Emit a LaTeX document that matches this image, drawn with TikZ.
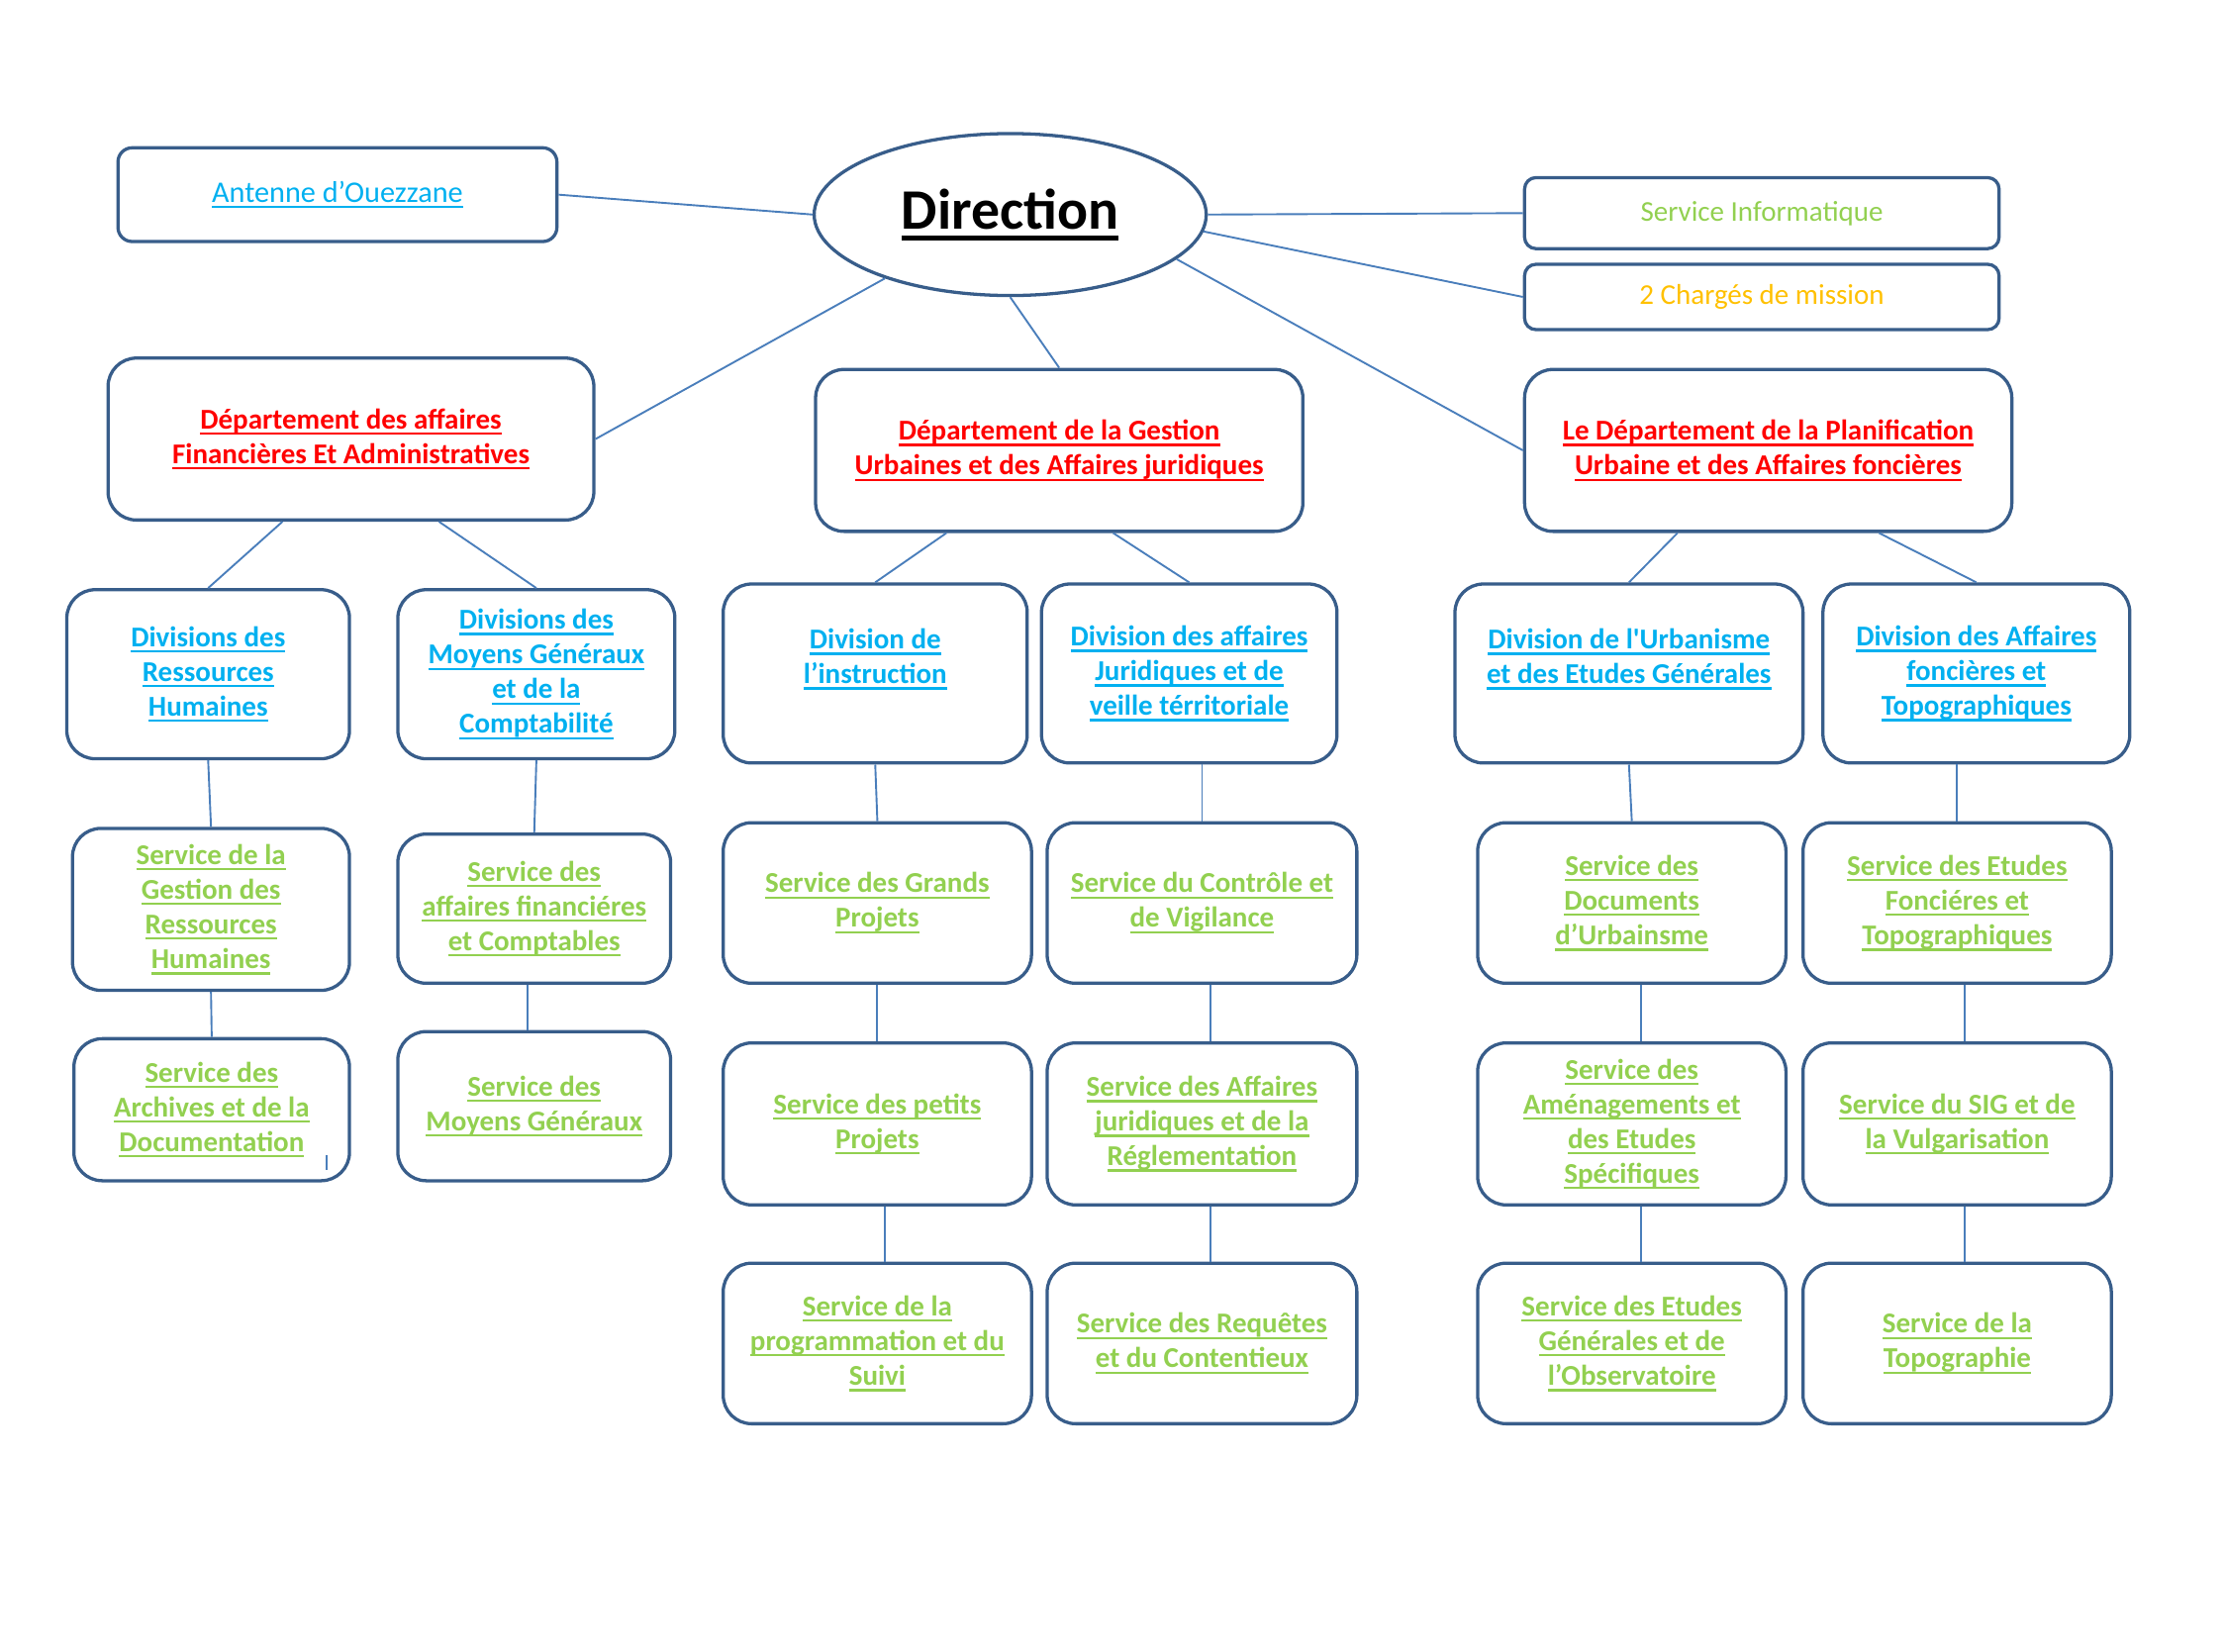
\documentclass[tikz,border=0pt]{standalone}
\usepackage{fontspec}
\setmainfont{Carlito}[Ligatures=TeXOff]
\usetikzlibrary{calc, shapes.geometric}
\definecolor{boxblue}{HTML}{385D8A}
\definecolor{linecol}{HTML}{4A7EBB}
\definecolor{linkblue}{HTML}{00B0F0}
\definecolor{srvgreen}{HTML}{92D050}
\definecolor{deptred}{HTML}{FF0000}
\definecolor{chgorange}{HTML}{FFC000}
\newcommand{\ulin}[1]{\setbox0=\hbox{#1}\rlap{\rule[-2.4pt]{\wd0}{0.9pt}}\box0}
\newcommand{\ulbig}[1]{\setbox0=\hbox{#1}\rlap{\rule[-4.6pt]{\wd0}{1.9pt}}\box0}
\tikzset{ % chart styles
  orgbox/.style={draw=boxblue, line width=1.3pt, rounded corners=0.4cm, align=center,
    inner sep=0pt, font=\fontsize{11.5}{13.9}\selectfont\bfseries},
  dept/.style={orgbox, text=deptred, minimum height=2.28cm},
  divi/.style={orgbox, text=linkblue},
  serv/.style={orgbox, text=srvgreen},
  topbox/.style={orgbox, font=\fontsize{11.5}{14}\selectfont},
  link/.style={draw=linecol, line width=0.75pt}
}

\begin{document}
\begin{tikzpicture}[x=0.02cm, y=-0.02cm]
  \useasboundingbox (0,0) rectangle (1566,1162);
  % top level
  \node[ellipse, draw=boxblue, line width=1.3pt, minimum width=5.52cm, minimum height=2.28cm,
    inner sep=0pt, font=\fontsize{22.9}{27}\selectfont\bfseries] (dir) at (711,151) {\ulbig{Direction}};
  \node[topbox, text=linkblue, rounded corners=0.2cm, minimum width=6.18cm, minimum height=1.32cm,
    font=\fontsize{12}{14}\selectfont] (ant) at (237.5,137) {\ulin{Antenne d’Ouezzane}};
  \node[topbox, text=srvgreen, rounded corners=0.16cm, minimum width=6.68cm, minimum height=1.0cm] (inf) at (1240,150) {Service Informatique};
  \node[topbox, text=chgorange, rounded corners=0.16cm, minimum width=6.68cm, minimum height=0.92cm] (chg) at (1240,209) {2 Chargés de mission};
  \node[dept, minimum width=6.84cm] (dfin) at (247,309) {\ulin{Département des affaires}\\\ulin{Financières Et Administratives}};
  \node[dept, minimum width=6.86cm] (dges) at (745.5,317) {\ulin{Département de la Gestion}\\\ulin{Urbaines et des Affaires juridiques}};
  \node[dept, minimum width=6.86cm] (dpl) at (1244.5,317) {\ulin{Le Département de la Planification}\\\ulin{Urbaine et des Affaires foncières}};
  % divisions
  \node[divi, minimum width=3.98cm, minimum height=2.38cm] (drh) at (146.5,474.5) {\ulin{Divisions des}\\\ulin{Ressources}\\\ulin{Humaines}};
  \node[divi, minimum width=3.9cm, minimum height=2.38cm] (dmg) at (377.5,474.5) {\ulin{Divisions des}\\\ulin{Moyens Généraux}\\\ulin{et de la}\\\ulin{Comptabilité}};
  \node[divi, minimum width=4.28cm, minimum height=2.52cm] (di) at (616,474) {\ulin{Division de}\\\ulin{l’instruction}\\\mbox{}};
  \node[divi, minimum width=4.16cm, minimum height=2.52cm] (daj) at (837,474) {\ulin{Division des affaires}\\\ulin{Juridiques et de}\\\ulin{veille térritoriale}};
  \node[divi, minimum width=4.9cm, minimum height=2.52cm] (du) at (1146.5,474) {\ulin{Division de l'Urbanisme}\\\ulin{et des Etudes Générales}\\\mbox{}};
  \node[divi, minimum width=4.32cm, minimum height=2.52cm] (daf) at (1391,474) {\ulin{Division des Affaires}\\\ulin{foncières et}\\\ulin{Topographiques}};
  % services
  \node[serv, minimum width=3.9cm, minimum height=2.28cm] (sgrh) at (148.5,640) {\ulin{Service de la}\\\ulin{Gestion des}\\\ulin{Ressources}\\\ulin{Humaines}};
  \node[serv, minimum width=3.88cm, minimum height=2.0cm] (sad) at (149,781) {\ulin{Service des}\\\ulin{Archives et de la}\\\ulin{Documentation}};
  \node[serv, minimum width=3.84cm, minimum height=2.1cm] (safc) at (376,639.5) {\ulin{Service des}\\\ulin{affaires financiéres}\\\ulin{et Comptables}};
  \node[serv, minimum width=3.84cm, minimum height=2.1cm] (smg) at (376,778.5) {\ulin{Service des}\\\ulin{Moyens Généraux}};
  \node[serv, minimum width=4.34cm, minimum height=2.26cm] (sgp) at (617.5,635.5) {\ulin{Service des Grands}\\\ulin{Projets}};
  \node[serv, minimum width=4.34cm, minimum height=2.28cm] (spp) at (617.5,791) {\ulin{Service des petits}\\\ulin{Projets}};
  \node[serv, minimum width=4.34cm, minimum height=2.26cm] (sps) at (617.5,945.5) {\ulin{Service de la}\\\ulin{programmation et du}\\\ulin{Suivi}};
  \node[serv, minimum width=4.36cm, minimum height=2.26cm] (scv) at (846,635.5) {\ulin{Service du Contrôle et}\\\ulin{de Vigilance}};
  \node[serv, minimum width=4.36cm, minimum height=2.28cm] (saj) at (846,791) {\ulin{Service des Affaires}\\\ulin{juridiques et de la}\\\ulin{Réglementation}};
  \node[serv, minimum width=4.36cm, minimum height=2.26cm] (src) at (846,945.5) {\ulin{Service des Requêtes}\\\ulin{et du Contentieux}};
  \node[serv, minimum width=4.34cm, minimum height=2.26cm] (sdu) at (1148.5,635.5) {\ulin{Service des}\\\ulin{Documents}\\\ulin{d’Urbainsme}};
  \node[serv, minimum width=4.34cm, minimum height=2.28cm] (sae) at (1148.5,791) {\ulin{Service des}\\\ulin{Aménagements et}\\\ulin{des Etudes}\\\ulin{Spécifiques}};
  \node[serv, minimum width=4.34cm, minimum height=2.26cm] (seg) at (1148.5,945.5) {\ulin{Service des Etudes}\\\ulin{Générales et de}\\\ulin{l’Observatoire}};
  \node[serv, minimum width=4.34cm, minimum height=2.26cm] (sef) at (1377.5,635.5) {\ulin{Service des Etudes}\\\ulin{Fonciéres et}\\\ulin{Topographiques}};
  \node[serv, minimum width=4.34cm, minimum height=2.28cm] (ssig) at (1377.5,791) {\ulin{Service du SIG et de}\\\ulin{la Vulgarisation}};
  \node[serv, minimum width=4.34cm, minimum height=2.26cm] (stp) at (1377.5,945.5) {\ulin{Service de la}\\\ulin{Topographie}};
  % connectors
  \draw[link] (ant.east) -- (dir.west);
  \draw[link] (dir.east) -- (inf.west);
  \draw[link] (dir.-5.5) -- (chg.west);
  \draw[link] (dir.207) -- (dfin.east);
  \draw[link] (dir.south) -- (dges.north);
  \draw[link] (dir.-15) -- (dpl.west);
  \draw[link] ($(dfin.south west)!.36!(dfin.south east)$) -- (drh.north);
  \draw[link] ($(dfin.south west)!.68!(dfin.south east)$) -- (dmg.north);
  \draw[link] ($(dges.south west)!.27!(dges.south east)$) -- (di.north);
  \draw[link] ($(dges.south west)!.61!(dges.south east)$) -- (daj.north);
  \draw[link] ($(dpl.south west)!.315!(dpl.south east)$) -- (du.north);
  \draw[link] ($(dpl.south west)!.726!(dpl.south east)$) -- (daf.north);
  \draw[link] (drh.south) -- (sgrh.north);
  \draw[link] (sgrh.south) -- (sad.north);
  \draw[link] (dmg.south) -- (safc.north);
  \draw[link] ($(safc.south)+(-5,0)$) -- ($(smg.north)+(-5,0)$);
  \draw[link] (di.south) -- (sgp.north);
  \draw[link] (sgp.south) -- (spp.north);
  \draw[link] ($(spp.south)+(5.5,0)$) -- ($(sps.north)+(5.5,0)$);
  \draw[link] (scv.north |- daj.south) -- (scv.north);
  \draw[link] ($(scv.south)+(6,0)$) -- ($(saj.north)+(6,0)$);
  \draw[link] ($(saj.south)+(6,0)$) -- ($(src.north)+(6,0)$);
  \draw[link] (du.south) -- (sdu.north);
  \draw[link] ($(sdu.south)+(6.5,0)$) -- ($(sae.north)+(6.5,0)$);
  \draw[link] ($(sae.south)+(6.5,0)$) -- ($(seg.north)+(6.5,0)$);
  \draw[link] (sef.north |- daf.south) -- (sef.north);
  \draw[link] ($(sef.south)+(5.5,0)$) -- ($(ssig.north)+(5.5,0)$);
  \draw[link] ($(ssig.south)+(5.5,0)$) -- ($(stp.north)+(5.5,0)$);
  \draw[linecol, line width=0.8pt] ($(sad.south east)+(-17,-19)$) -- ++(0,10);
\end{tikzpicture}
\end{document}
